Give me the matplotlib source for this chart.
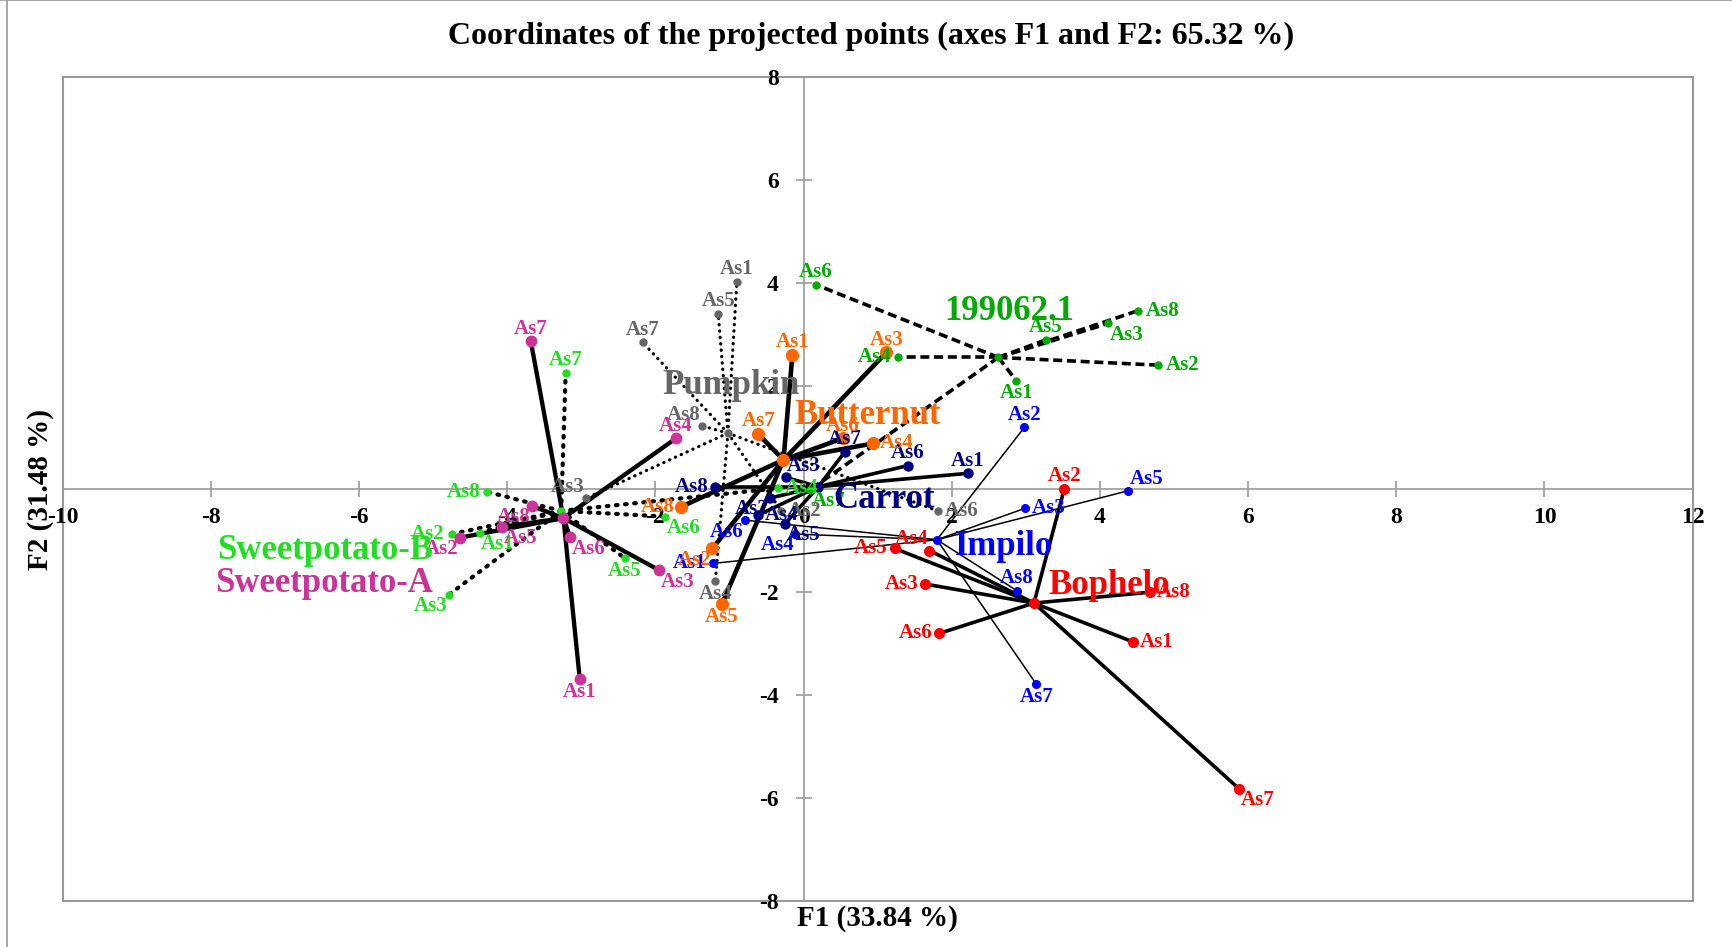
import matplotlib.pyplot as plt
from matplotlib.lines import Line2D
from matplotlib.patches import Rectangle

plt.rcParams['font.family'] = ['Liberation Serif', 'DejaVu Serif']
plt.rcParams['font.weight'] = 'bold'
plt.rcParams['axes.unicode_minus'] = False

obs = ['As1', 'As2', 'As3', 'As4', 'As5', 'As6', 'As7', 'As8']

# projected coordinates (F1, F2) of As1..As8 and of each group centre
sweet_a_f1 = [-3.02, -4.64, -1.95, -1.72, -4.07, -3.15, -3.68, -3.67]
sweet_a_f2 = [-3.68, -0.94, -1.57, 0.99, -0.73, -0.93, 2.87, -0.32]
sweet_a_centre = (-3.24, -0.56)

sweet_b_f1 = [-4.37, -4.75, -4.79, -0.34, -2.41, -1.87, -3.21, -4.27]
sweet_b_f2 = [-0.84, -0.87, -2.05, 0.02, -1.34, -0.53, 2.26, -0.05]
sweet_b_centre = (-3.27, -0.42)

pumpkin_f1 = [-0.90, -0.30, -2.93, -1.19, -1.15, 1.81, -2.17, -1.37]
pumpkin_f2 = [4.02, -0.42, -0.17, -1.79, 3.40, -0.42, 2.85, 1.23]
pumpkin_centre = (-1.02, 1.09)

butternut_f1 = [-0.15, -1.23, 1.12, 0.94, -1.10, 0.53, -0.61, -1.65]
butternut_f2 = [2.61, -1.15, 2.66, 0.89, -2.23, 0.99, 1.07, -0.34]
butternut_centre = (-0.27, 0.57)

carrot_f1 = [2.22, -0.45, -0.24, -0.61, -0.25, 1.41, 0.56, -1.19]
carrot_f2 = [0.31, -0.17, 0.23, -0.50, -0.67, 0.46, 0.73, 0.05]
carrot_centre = (0.20, 0.05)

g199062_f1 = [2.87, 4.79, 4.11, 1.28, 3.27, 0.17, 0.09, 4.52]
g199062_f2 = [2.11, 2.41, 3.22, 2.56, 2.90, 3.97, -0.01, 3.47]
g199062_centre = (2.63, 2.56)

impilo_f1 = [-1.22, 2.98, 2.99, -0.11, 4.38, -0.79, 3.14, 2.88]
impilo_f2 = [-1.44, 1.20, -0.37, -0.87, -0.03, -0.60, -3.78, -1.97]
impilo_centre = (1.80, -0.98)

bophelo_f1 = [4.44, 3.52, 1.64, 1.70, 1.23, 1.83, 5.88, 4.67]
bophelo_f2 = [-2.96, 0.01, -1.84, -1.19, -1.15, -2.80, -5.82, -2.00]
bophelo_centre = (3.11, -2.21)

# where each point label sits relative to its point
label_side = {
    'Sweetpotato-A': ['b', 'bl', 'br', 'a', 'br', 'br', 'a', 'bl'],
    'Sweetpotato-B': ['br', 'l', 'bl', 'r', 'b', 'br', 'a', 'l'],
    'Pumpkin': ['a', 'r', 'al', 'b', 'a', 'r', 'a', 'al'],
    'Butternut': ['a', 'bl', 'a', 'r', 'b', 'a', 'a', 'l'],
    'Carrot': ['a', 'bl', 'ar', 'r', 'br', 'a', 'a', 'l'],
    '199062.1': ['b', 'r', 'br', 'l', 'a', 'a', 'br', 'r'],
    'Impilo': ['l', 'a', 'r', 'bl', 'ar', 'bl', 'b', 'a'],
    'Bophelo': ['r', 'a', 'l', 'al', 'l', 'l', 'br', 'r'],
}
side_fmt = {
    'a': ((0, 2), 'center', 'bottom'),
    'b': ((0, -2), 'center', 'top'),
    'r': ((5, 0), 'left', 'center'),
    'l': ((-5, 0), 'right', 'center'),
    'br': ((1, -1), 'left', 'top'),
    'bl': ((-1, -1), 'right', 'top'),
    'ar': ((1, 1), 'left', 'bottom'),
    'al': ((-1, 1), 'right', 'bottom'),
}

# group name placement
name_pos = {
    'Sweetpotato-A': (-6.47, -1.83),
    'Sweetpotato-B': (-6.45, -1.18),
    'Pumpkin': (-0.98, 2.01),
    'Butternut': (0.87, 1.43),
    'Carrot': (1.08, -0.20),
    '199062.1': (2.78, 3.45),
    'Impilo': (2.71, -1.12),
    'Bophelo': (4.12, -1.87),
}

round_dots = dict(ls=(0, (0.4, 1.8)), lw=3.0, dash_capstyle='round')
fine_dots = dict(ls=(0, (0.1, 1.9)), lw=2.3, dash_capstyle='round')
dashes = dict(ls=(0, (2.5, 1.3)), lw=2.6)

groups = [
    ('Impilo', impilo_f1, impilo_f2, impilo_centre, '#0000FF', dict(ls='-', lw=1.1), 5.5),
    ('Bophelo', bophelo_f1, bophelo_f2, bophelo_centre, '#FF0000', dict(ls='-', lw=2.6), 7),
    ('199062.1', g199062_f1, g199062_f2, g199062_centre, '#00AA00', dashes, 5),
    ('Pumpkin', pumpkin_f1, pumpkin_f2, pumpkin_centre, '#666666', fine_dots, 5),
    ('Sweetpotato-B', sweet_b_f1, sweet_b_f2, sweet_b_centre, '#22DD22', round_dots, 5),
    ('Sweetpotato-A', sweet_a_f1, sweet_a_f2, sweet_a_centre, '#CC3399', dict(ls='-', lw=3.1), 7.5),
    ('Carrot', carrot_f1, carrot_f2, carrot_centre, '#000080', dict(ls='-', lw=2.6), 6.5),
    ('Butternut', butternut_f1, butternut_f2, butternut_centre, '#FF6600', dict(ls='-', lw=3.3), 8.5),
]

fig = plt.figure(figsize=(17.32, 9.47), dpi=100)
ax = fig.add_axes([0.0361, 0.0483, 0.9412, 0.8701])

for name, f1, f2, centre, color, style, msize in groups:
    cx, cy = centre
    for x, y in zip(f1, f2):
        ax.plot([cx, x], [cy, y], color='black', zorder=2, **style)
    ax.plot(f1, f2, 'o', color=color, ms=msize, mec=color, zorder=3)
    ax.plot(cx, cy, 'o', color=color, ms=msize, mec=color, zorder=3)
    for lab, x, y, side in zip(obs, f1, f2, label_side[name]):
        off, ha, va = side_fmt[side]
        ax.annotate(lab, (x, y), xytext=off, textcoords='offset points',
                    ha=ha, va=va, color=color, fontsize=15, fontweight='bold', zorder=4)
    nx, ny = name_pos[name]
    ax.text(nx, ny, name, color=color, fontsize=25, fontweight='bold',
            ha='center', va='center', zorder=5)

ax.set_xlim(-10, 12)
ax.set_ylim(-8, 8)
ax.set_xticks(range(-10, 13, 2))
ax.set_yticks([-8, -6, -4, -2, 2, 4, 6, 8])

for side in ['top', 'right']:
    ax.spines[side].set_visible(False)
ax.spines['left'].set_position(('data', 0))
ax.spines['bottom'].set_position(('data', 0))
for side in ['left', 'bottom']:
    ax.spines[side].set_color('#999999')
    ax.spines[side].set_linewidth(1.2)
    ax.spines[side].set_zorder(1)
ax.add_patch(Rectangle((0, 0), 1, 1, transform=ax.transAxes, fill=False,
                       edgecolor='#999999', lw=1.5, clip_on=False, zorder=1))

ax.tick_params(axis='both', direction='inout', length=12, width=1.2, color='#999999',
               labelsize=17)
ax.tick_params(axis='x', pad=7)
ax.tick_params(axis='y', pad=12)
for t in ax.get_xticklabels() + ax.get_yticklabels():
    t.set_fontweight('bold')

fig.text(0.503, 0.9615, 'Coordinates of the projected points (axes F1 and F2: 65.32 %)',
         ha='center', va='center', fontsize=23, fontweight='bold')
fig.text(0.5064, 0.0296, 'F1 (33.84 %)', ha='center', va='center',
         fontsize=21, fontweight='bold')
fig.text(0.0231, 0.4836, 'F2 (31.48 %)', ha='center', va='center', rotation=90,
         fontsize=21, fontweight='bold')

# outer chart border
fig.add_artist(Line2D([0.0042, 0.0042], [0, 1], color='#999999', lw=1.2))
fig.add_artist(Line2D([0, 1], [0.9995, 0.9995], color='#999999', lw=1.2))

fig.savefig('out.png', dpi=100)
